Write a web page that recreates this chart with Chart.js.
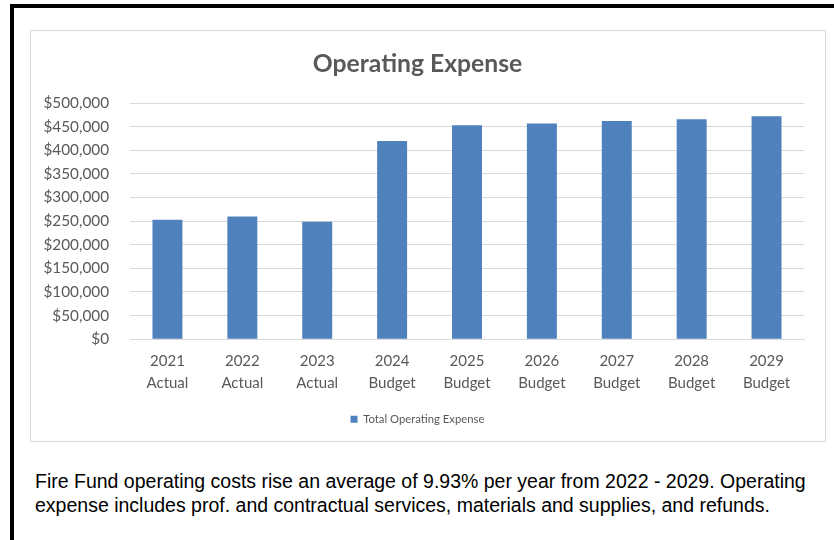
<!DOCTYPE html>
<html lang="en">
<head>
  <meta charset="UTF-8" />
  <title>Operating Expense</title>
  <script src="https://cdn.jsdelivr.net/npm/chart.js@4.4.1/dist/chart.umd.min.js"></script>
  <style>
    html, body { margin: 0; padding: 0; background: #fff; }
    body { width: 834px; height: 540px; position: relative; overflow: hidden; }
    .frame-top { position: absolute; left: 10px; top: 4px; right: 0; height: 4px; background: #000; }
    .frame-left { position: absolute; left: 10px; top: 4px; width: 4px; bottom: 0; background: #000; }
    .chart-box {
      position: absolute; left: 30px; top: 30px; width: 796px; height: 412px;
      box-sizing: border-box; border: 1px solid #d9d9d9;
    }
    .chart-box canvas { display: block; }
    .note {
      position: absolute; left: 35px; top: 469px;
      font-family: "Liberation Sans", Arial, sans-serif; font-size: 19.5px;
      line-height: 24px; color: #000; white-space: nowrap;
    }
  </style>
</head>
<body>
  <div class="frame-top"></div>
  <div class="frame-left"></div>

  <div class="chart-box">
    <canvas id="opChart" width="794" height="410"></canvas>
  </div>

  <div class="note">
    Fire Fund operating costs rise an average of 9.93% per year from 2022 - 2029. Operating<br>
    expense includes prof. and contractual services, materials and supplies, and refunds.
  </div>

  <script>
  // data
  const years    = ['2021', '2022', '2023', '2024', '2025', '2026', '2027', '2028', '2029'];
  const kinds    = ['Actual', 'Actual', 'Actual', 'Budget', 'Budget', 'Budget', 'Budget', 'Budget', 'Budget'];
  const expense  = [253000, 260000, 249000, 420000, 453000, 457000, 462000, 466000, 472000];
  const yTicks   = [0, 50000, 100000, 150000, 200000, 250000, 300000, 350000, 400000, 450000, 500000];

  (function () {
    const grey  = '#595959';
    const font  = 'Lato, "Open Sans", sans-serif';
    const money = v => '$' + v.toLocaleString('en-US');

    new Chart(document.getElementById('opChart'), {
      type: 'bar',
      data: {
        labels: years.map((y, i) => [y, kinds[i]]),
        datasets: [{
          label: 'Total Operating Expense',
          data: expense,
          backgroundColor: '#4f81bd',
          borderWidth: 0,
          barPercentage: 0.4,
          categoryPercentage: 1
        }]
      },
      options: {
        responsive: false,
        animation: false,
        layout: { padding: { left: 0, right: 21, top: 0, bottom: 6 } },
        plugins: {
          title: {
            display: true,
            text: 'Operating Expense',
            color: grey,
            font: { family: font, size: 24.7, weight: 'bold' },
            padding: { top: 18.5, bottom: 24 }
          },
          legend: {
            position: 'bottom',
            labels: {
              color: grey,
              font: { family: font, size: 11.3 },
              boxWidth: 7, boxHeight: 7,
              padding: 10
            }
          },
          tooltip: { enabled: false }
        },
        scales: {
          x: {
            grid: { display: false },
            border: { color: '#d9d9d9' },
            afterFit: s => { s.height += 7; },
            ticks: {
              color: grey,
              font: { family: font, size: 15, lineHeight: 1.45 },
              padding: 3,
              maxRotation: 0, autoSkip: false
            }
          },
          y: {
            min: 0, max: 500000,
            afterBuildTicks: s => { s.ticks = yTicks.map(v => ({ value: v })); },
            afterFit: s => { s.width = 99; },
            grid: { color: '#d9d9d9', drawTicks: false },
            border: { display: false },
            ticks: {
              color: grey,
              font: { family: font, size: 15.3 },
              padding: 21,
              callback: v => money(v)
            }
          }
        }
      }
    });
  })();
  </script>
</body>
</html>
